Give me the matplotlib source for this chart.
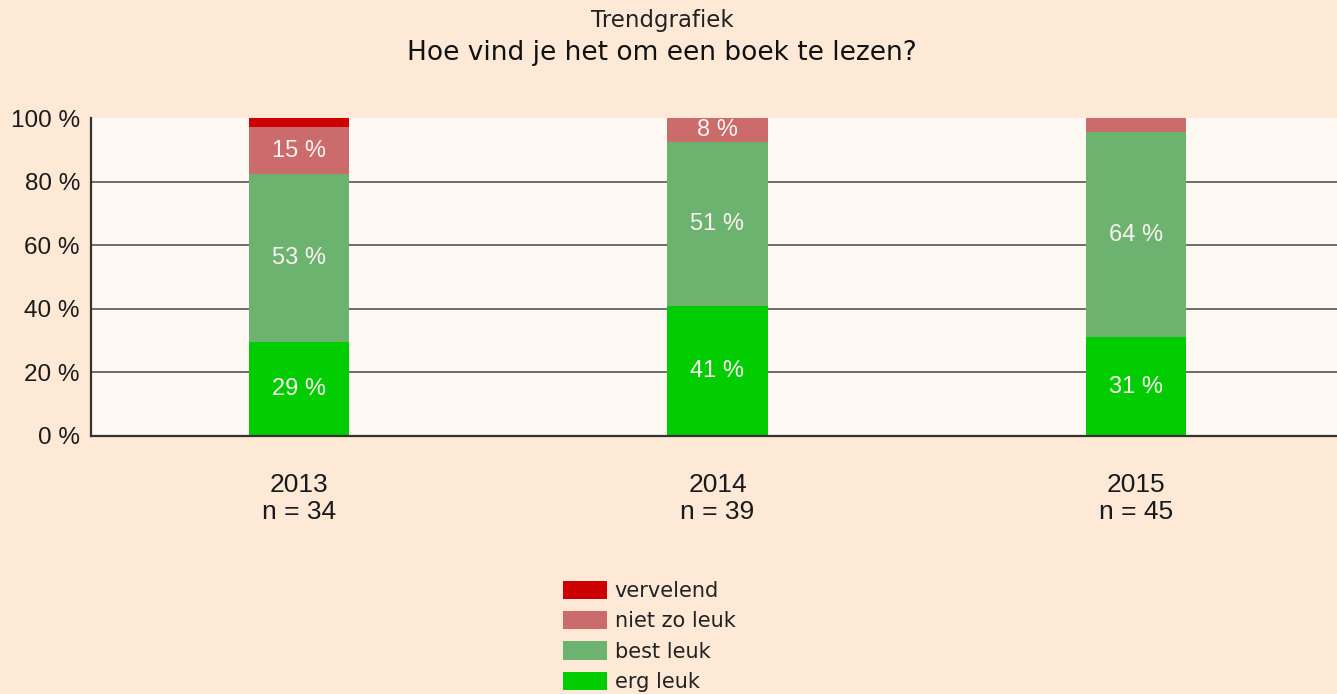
import matplotlib
matplotlib.use("Agg")
import matplotlib.pyplot as plt
from matplotlib.patches import Patch
import numpy as np

years = ["2013", "2014", "2015"]
n_values = [34, 39, 45]
categories = ["erg leuk", "best leuk", "niet zo leuk", "vervelend"]
# counts per category per year (derived from percentages and n)
erg_leuk = [10, 16, 14]
best_leuk = [18, 20, 29]
niet_zo_leuk = [5, 3, 2]
vervelend = [1, 0, 0]
colors = {"erg leuk": "#00CC00", "best leuk": "#6BB36E",
          "niet zo leuk": "#CC6B6B", "vervelend": "#CC0000"}

series = {"erg leuk": erg_leuk, "best leuk": best_leuk,
          "niet zo leuk": niet_zo_leuk, "vervelend": vervelend}

fig = plt.figure(figsize=(13.37, 6.94), dpi=100)
fig.patch.set_facecolor("#FEE9D7")
ax = fig.add_axes([91/1337, 1-436/694, 1-91/1337, (436-118)/694])
ax.set_facecolor("#FFF8F3")

x = np.arange(len(years))
n = np.array(n_values, dtype=float)
bottom = np.zeros(len(years))
width = 0.24
for cat in categories:
    pct = np.array(series[cat]) / n * 100
    ax.bar(x, pct, width, bottom=bottom, color=colors[cat], zorder=3,
           edgecolor="none")
    for xi, b, p in zip(x, bottom, pct):
        if p >= 6:
            ax.text(xi, b + p/2, f"{p:.0f} %", ha="center", va="center",
                    color="#FAF3F0", fontsize=17, family="Liberation Sans",
                    zorder=4)
    bottom += pct

ax.set_xlim(-(299-91)/418.5, (1337-299)/418.5)
ax.set_ylim(0, 100)
ax.set_yticks([0, 20, 40, 60, 80, 100])
ax.set_yticklabels([f"{v} %" for v in [0, 20, 40, 60, 80, 100]],
                   family="Liberation Sans", fontsize=17.5, color="#1a1a1a")
ax.set_xticks(x)
ax.set_xticklabels([f"{y}\nn = {k}" for y, k in zip(years, n_values)],
                   family="Liberation Sans", fontsize=19, color="#1a1a1a",
                   linespacing=1.15)
ax.tick_params(axis="both", length=0)
ax.tick_params(axis="x", pad=27)
ax.tick_params(axis="y", pad=8)
for g in [20, 40, 60, 80]:
    ax.axhline(g, color="#555555", linewidth=1.2, zorder=1)
for s in ["top", "right"]:
    ax.spines[s].set_visible(False)
for s in ["left", "bottom"]:
    ax.spines[s].set_color("#333333")
    ax.spines[s].set_linewidth(1.6)
    ax.spines[s].set_zorder(5)

fig.text(662/1337, 1-21/694, "Trendgrafiek", ha="center", va="center",
         fontsize=16.5, family="DejaVu Sans", color="#222222")
fig.text(662/1337, 1-53/694, "Hoe vind je het om een boek te lezen?",
         ha="center", va="center", fontsize=19, family="DejaVu Sans",
         color="#111111")

handles = [Patch(facecolor=colors[c], edgecolor="none") for c in categories[::-1]]
leg = fig.legend(handles, categories[::-1], loc="upper left",
                 bbox_to_anchor=(563/1337, 1-581/694), frameon=False,
                 prop={"family": "DejaVu Sans", "size": 15},
                 handlelength=2.1, handleheight=0.96, labelspacing=0.48,
                 handletextpad=0.38, borderaxespad=0, borderpad=0)
for t in leg.get_texts():
    t.set_color("#222222")

fig.savefig("out.png", dpi=100, facecolor=fig.get_facecolor())
